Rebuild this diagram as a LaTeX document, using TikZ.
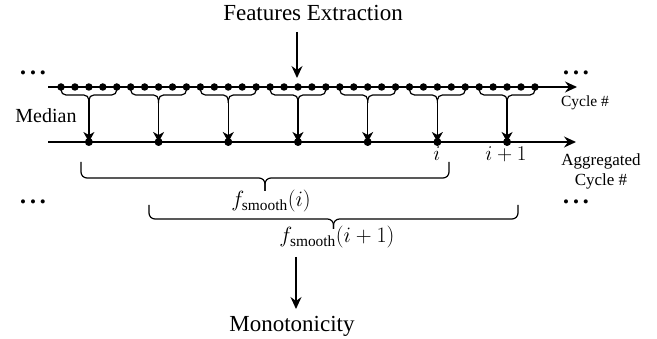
\documentclass[tikz,border=0pt]{standalone}
\usepackage{fix-cm}
\usepackage{fontspec}
\setmainfont{Liberation Serif}
\usetikzlibrary{arrows.meta}
\newcommand{\mydots}{{\fontsize{17}{17}\selectfont •\hspace{4pt}•\hspace{4pt}•}}
\begin{document}
\begin{tikzpicture}[x=1pt,y=-1pt,line width=1.3pt,
  arr/.style={-{Stealth[length=12pt,width=11pt,inset=4pt]}},
  smallarr/.style={-{Stealth[length=10pt,width=11pt,inset=3pt]}},
  topdot/.style={circle,fill,inner sep=0pt,minimum size=7.5pt},
  aggdot/.style={circle,fill,inner sep=0pt,minimum size=8pt},
  bracepath/.style={rounded corners=5pt,line width=1.2pt},
  bigbrace/.style={rounded corners=6pt,line width=1.2pt},
  lbl/.style={inner sep=0pt,anchor=base}]
\useasboundingbox (0,0) rectangle (657,339);

% axes
\coordinate (tl) at (48,87);
\coordinate (tr) at (577,87);
\coordinate (bl) at (48,142);
\coordinate (br) at (576,142);
\draw[arr] (tl) -- (tr);
\draw[arr] (bl) -- (br);

% top dots
\foreach \k in {0,...,34}{
  \node[topdot] (t\k) at ({61+13.94*\k},87) {};
}

% groups
\foreach \g in {0,...,6}{
  \pgfmathsetmacro{\xa}{61+13.94*5*\g}
  \pgfmathsetmacro{\xb}{\xa+4*13.94}
  \pgfmathsetmacro{\xm}{\xa+2*13.94}
  \coordinate (tip\g) at (\xm,99);
  \draw[bracepath] (\xa,87) -- (\xa,95) -- (\xm,95) -- (tip\g);
  \draw[bracepath] (\xb,87) -- (\xb,95) -- (\xm,95) -- (tip\g);
  \node[aggdot] (a\g) at (\xm,142) {};
  \draw[smallarr] (tip\g) -- (a\g.center);
}

% big braces
\coordinate (b1tip) at (265,191);
\draw[bigbrace] (81,162) -- (81,178) -- (265,178) -- (b1tip);
\draw[bigbrace] (449,162) -- (449,178) -- (265,178) -- (b1tip);
\coordinate (b2tip) at (333.5,229);
\draw[bigbrace] (149,205) -- (149,219) -- (333.5,219) -- (b2tip);
\draw[bigbrace] (518,205) -- (518,219) -- (333.5,219) -- (b2tip);

% labels
\node[lbl,font=\fontsize{23}{23}\selectfont] (fe) at (313,21) {Features Extraction};
\node[lbl,font=\fontsize{23}{23}\selectfont] (mono) at (292,332) {Monotonicity};
\node[lbl,font=\fontsize{20}{20}\selectfont] (median) at (46,123) {Median};
\node[lbl,font=\fontsize{15.5}{15.5}\selectfont] (cyc) at (585,107) {Cycle \#};
\node[inner sep=0pt,align=center,font=\fontsize{17}{20.5}\selectfont,anchor=base] (agg) at (601,186) {Aggregated\\Cycle \#};
\node[lbl,font=\fontsize{21}{21}\selectfont] (li) at (437,161) {$i$};
\node[lbl,font=\fontsize{21}{21}\selectfont] (li1) at (506,161) {$i+1$};
\node[lbl,font=\fontsize{22}{22}\selectfont] (fs1) at (271,207) {$f_{\mathrm{smooth}}(i)$};
\node[lbl,font=\fontsize{22}{22}\selectfont] (fs2) at (337,243) {$f_{\mathrm{smooth}}(i+1)$};

\node[lbl] (d1) at (33,79) {\mydots};
\node[lbl] (d2) at (576,79) {\mydots};
\node[lbl] (d3) at (33,208) {\mydots};
\node[lbl] (d4) at (576,208) {\mydots};

% arrows in / out
\coordinate (feA) at (297,32);
\coordinate (feB) at (297,78);
\draw[arr] (feA) -- (feB);
\coordinate (moA) at (296,257);
\coordinate (moB) at (296,309);
\draw[arr] (moA) -- (moB);
\end{tikzpicture}
\end{document}
